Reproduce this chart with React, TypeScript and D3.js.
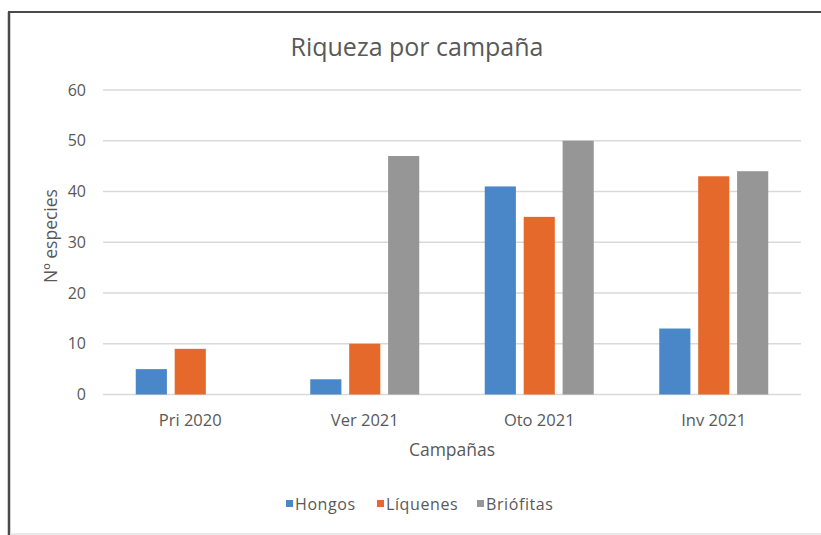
import React, { useEffect, useRef } from "react";
import * as d3 from "d3";

const categories = ["Pri 2020", "Ver 2021", "Oto 2021", "Inv 2021"];
const seriesNames = ["Hongos", "Líquenes", "Briófitas"];
const hongos = [5, 3, 41, 13];
const liquenes = [9, 10, 35, 43];
const briofitas = [0, 47, 50, 44];
const yTicks = [0, 10, 20, 30, 40, 50, 60];
const colors = ["#4a87c9", "#e5692a", "#969696"];

export default function App() {
  const svgRef = useRef<SVGSVGElement>(null);

  useEffect(() => {
    const W = 821, H = 535;
    const svg = d3.select(svgRef.current);
    svg.selectAll("*").remove();
    svg.attr("width", W).attr("height", H);

    const font = "'Open Sans', sans-serif";
    const txt = "#595959";

    svg.append("rect").attr("x", 0).attr("y", 0).attr("width", W).attr("height", H).attr("fill", "#fff");
    // frame
    svg.append("line").attr("x1", 9).attr("x2", 9).attr("y1", 12).attr("y2", H).attr("stroke", "#4a4a4a").attr("stroke-width", 2.5);
    svg.append("line").attr("x1", 8).attr("x2", W).attr("y1", 12).attr("y2", 12).attr("stroke", "#4a4a4a").attr("stroke-width", 2);
    svg.append("line").attr("x1", 10).attr("x2", W).attr("y1", 534).attr("y2", 534).attr("stroke", "#e2e2e2").attr("stroke-width", 1.5);

    const left = 103, right = 801, top = 90, bottom = 394.5;

    const x = d3.scaleBand().domain(categories).range([left, right]);
    const y = d3.scaleLinear().domain([0, 60]).range([bottom, top]);
    const groupW = 109;
    const xs = d3.scaleBand().domain(seriesNames).range([-groupW / 2, groupW / 2]).paddingInner(0.2);

    // gridlines + y labels
    yTicks.forEach(t => {
      svg.append("line").attr("x1", left).attr("x2", right).attr("y1", y(t)).attr("y2", y(t))
        .attr("stroke", "#d9d9d9").attr("stroke-width", 1.3);
      svg.append("text").attr("x", 86).attr("y", y(t)).attr("dy", "0.35em").attr("text-anchor", "end")
        .attr("font-family", font).attr("font-size", 16).attr("fill", txt).text(t);
    });

    const data = [hongos, liquenes, briofitas];
    categories.forEach((c, i) => {
      const cx = x(c)! + x.bandwidth() / 2;
      seriesNames.forEach((s, j) => {
        const v = data[j][i];
        if (!v) return;
        svg.append("rect")
          .attr("x", cx + xs(s)!)
          .attr("y", y(v))
          .attr("width", xs.bandwidth())
          .attr("height", y(0) - y(v))
          .attr("fill", colors[j]);
      });
      svg.append("text").attr("x", cx).attr("y", 420).attr("dy", "0.35em").attr("text-anchor", "middle")
        .attr("font-family", font).attr("font-size", 16.5).attr("fill", txt).text(c);
    });

    // title
    svg.append("text").attr("x", 417).attr("y", 56).attr("text-anchor", "middle")
      .attr("font-family", font).attr("font-size", 25).attr("fill", txt).text("Riqueza por campaña");

    // axis titles
    svg.append("text").attr("x", 452).attr("y", 450).attr("dy", "0.35em").attr("text-anchor", "middle")
      .attr("font-family", font).attr("font-size", 17.5).attr("fill", txt).text("Campañas");
    svg.append("text").attr("transform", "translate(51,236) rotate(-90)").attr("dy", "0.35em").attr("text-anchor", "middle")
      .attr("font-family", font).attr("font-size", 17.5).attr("fill", txt).text("Nº especies");

    // legend
    const legendX = [286, 377, 477];
    seriesNames.forEach((s, j) => {
      svg.append("rect").attr("x", legendX[j]).attr("y", 500).attr("width", 7).attr("height", 7).attr("fill", colors[j]);
      svg.append("text").attr("x", legendX[j] + 9).attr("y", 504).attr("dy", "0.35em")
        .attr("font-family", font).attr("font-size", 16).attr("letter-spacing", 0.6).attr("fill", txt).text(s);
    });
  }, []);

  return (
    <div style={{ position: "absolute", left: 0, top: 0 }}>
      <svg ref={svgRef} style={{ display: "block" }}></svg>
    </div>
  );
}
